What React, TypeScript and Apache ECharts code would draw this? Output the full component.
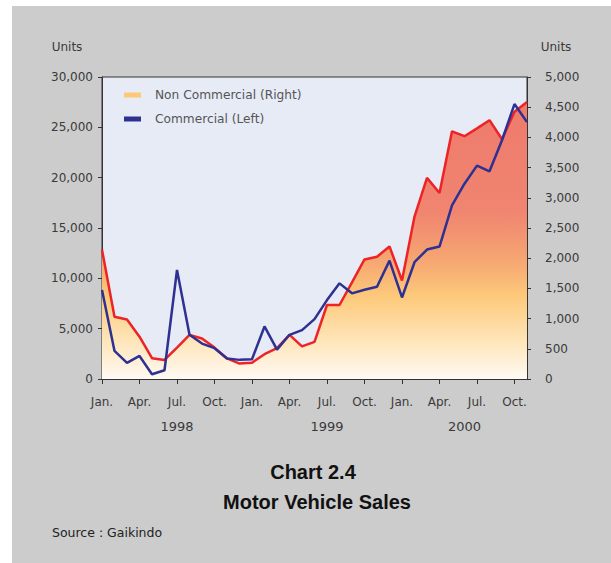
import React, { useEffect, useRef } from "react";
import * as echarts from "echarts";

const years = ["1998", "1999", "2000"];
const monthNames = ["Jan.", "Feb.", "Mar.", "Apr.", "May", "Jun.", "Jul.", "Aug.", "Sep.", "Oct.", "Nov.", "Dec."];
const monthCount = 35;

// Non commercial vehicles (right axis, units)
const nonCommercial = [
  2140, 1030, 985, 700, 345, 315, 520, 730, 670, 520, 340, 255,
  270, 410, 510, 730, 540, 615, 1225, 1225, 1600, 1980, 2025, 2195,
  1630, 2690, 3330, 3080, 4100, 4020, 4150, 4285, 3970, 4425, 4585,
];
// Commercial vehicles (left axis, units)
const commercial = [
  8840, 2790, 1600, 2290, 470, 870, 10830, 4390, 3520, 3060, 2030, 1900,
  1960, 5220, 2920, 4390, 4850, 5950, 7840, 9500, 8510, 8870, 9170, 11760,
  8100, 11600, 12860, 13160, 17240, 19400, 21200, 20630, 23720, 27310, 25520,
];

const leftTicks = { min: 0, max: 30000, interval: 5000 };
const rightTicks = { min: 0, max: 5000, interval: 500 };

const categories: string[] = [];
for (let i = 0; i < monthCount; i++) {
  categories.push(monthNames[i % 12] + " " + years[Math.floor(i / 12)]);
}
// index of the centre of each year's months
const yearCenters = years.map((_, y) => {
  const first = y * 12;
  const last = Math.min(monthCount - 1, y * 12 + 11);
  return Math.ceil((first + last) / 2);
});

const FONT = "DejaVu Sans";

export default function App() {
  const ref = useRef<HTMLDivElement>(null);
  useEffect(() => {
    if (!ref.current) return;
    const chart = echarts.init(ref.current, undefined, { renderer: "svg" });
    const gradient = new echarts.graphic.LinearGradient(0, 0, 0, 1, [
      { offset: 0, color: "#ee7a6c" },
      { offset: 0.4, color: "#f08570" },
      { offset: 0.58, color: "#f6a872" },
      { offset: 0.7, color: "#fdc97a" },
      { offset: 0.85, color: "#fee3b4" },
      { offset: 1, color: "#fffaf3" },
    ]);
    chart.setOption({
      animation: false,
      backgroundColor: "transparent",
      textStyle: { fontFamily: FONT },
      grid: {
        left: 102,
        right: 84,
        top: 77,
        bottom: 184,
        show: true,
        backgroundColor: "#e7ebf6",
        borderColor: "#333",
        borderWidth: 1,
      },
      legend: {
        orient: "vertical",
        left: 119,
        top: 84,
        itemWidth: 17,
        itemHeight: 5,
        itemGap: 12,
        textStyle: { fontFamily: FONT, fontSize: 12.2, color: "#555", padding: [0, 0, 0, 9] },
        data: [
          { name: "Non Commercial (Right)", icon: "rect", itemStyle: { color: "#fdc878" } },
          { name: "Commercial (Left)", icon: "rect", itemStyle: { color: "#2e3192" } },
        ],
      },
      xAxis: [
        {
          type: "category",
          data: categories,
          boundaryGap: false,
          axisLine: { lineStyle: { color: "#333", width: 1 } },
          axisTick: { interval: (i: number) => i % 3 === 0, length: 5, lineStyle: { color: "#333" } },
          axisLabel: {
            interval: (i: number) => i % 3 === 0,
            formatter: (v: string) => v.split(" ")[0],
            margin: 17,
            fontFamily: FONT,
            fontSize: 12,
            color: "#3a3a3a",
          },
          splitLine: { show: false },
        },
        {
          type: "category",
          data: categories,
          boundaryGap: false,
          position: "bottom",
          axisLine: { show: false },
          axisTick: { show: false },
          axisLabel: {
            interval: (i: number) => yearCenters.includes(i),
            formatter: (v: string) => v.split(" ")[1],
            margin: 41,
            fontFamily: FONT,
            fontSize: 13,
            color: "#3a3a3a",
          },
          splitLine: { show: false },
        },
      ],
      yAxis: [
        {
          type: "value",
          position: "left",
          ...leftTicks,
          axisLine: { show: true, lineStyle: { color: "#333" } },
          axisTick: { show: true, length: 4, lineStyle: { color: "#333" } },
          axisLabel: { margin: 9, padding: [8, 0, 0, 0], fontFamily: FONT, fontSize: 12, color: "#3a3a3a" },
          splitLine: { show: false },
        },
        {
          type: "value",
          position: "right",
          ...rightTicks,
          axisLine: { show: true, lineStyle: { color: "#333" } },
          axisTick: { show: true, length: 4, lineStyle: { color: "#333" } },
          axisLabel: { margin: 18, padding: [8, 0, 0, 0], fontFamily: FONT, fontSize: 12, color: "#3a3a3a" },
          splitLine: { show: false },
        },
      ],
      series: [
        {
          name: "Non Commercial (Right)",
          type: "line",
          yAxisIndex: 1,
          data: nonCommercial,
          showSymbol: false,
          symbol: "none",
          itemStyle: { color: "#fdc878" },
          lineStyle: { color: "#ee2326", width: 2.5 },
          areaStyle: { color: gradient, opacity: 1 },
          z: 2,
        },
        {
          name: "Commercial (Left)",
          type: "line",
          yAxisIndex: 0,
          data: commercial,
          showSymbol: false,
          symbol: "none",
          itemStyle: { color: "#2e3192" },
          lineStyle: { color: "#2e3192", width: 2.5 },
          z: 3,
        },
      ],
      graphic: [
        {
          type: "text",
          x: 67,
          y: 47,
          style: { text: "Units", fontFamily: FONT, fontSize: 12, fill: "#3a3a3a", align: "center", verticalAlign: "middle" },
        },
        {
          type: "text",
          x: 556,
          y: 47,
          style: { text: "Units", fontFamily: FONT, fontSize: 12, fill: "#3a3a3a", align: "center", verticalAlign: "middle" },
        },
        {
          type: "text",
          x: 313,
          y: 472,
          style: { text: "Chart 2.4", fontFamily: "Liberation Sans", fontWeight: "bold", fontSize: 20, fill: "#111", align: "center", verticalAlign: "middle" },
        },
        {
          type: "text",
          x: 317,
          y: 502,
          style: { text: "Motor Vehicle Sales", fontFamily: "Liberation Sans", fontWeight: "bold", fontSize: 20, fill: "#111", align: "center", verticalAlign: "middle" },
        },
        {
          type: "text",
          x: 52,
          y: 532,
          style: { text: "Source : Gaikindo", fontFamily: FONT, fontSize: 12.5, fill: "#222", align: "left", verticalAlign: "middle" },
        },
      ],
    });
    return () => chart.dispose();
  }, []);
  return (
    <div style={{ position: "absolute", left: 0, top: 0, width: 611, height: 563, background: "#ffffff" }}>
      <div style={{ position: "absolute", left: 12, top: 6, width: 599, height: 557, background: "#cccccc" }} />
      <div ref={ref} style={{ position: "absolute", left: 0, top: 0, width: 611, height: 563 }} />
    </div>
  );
}
